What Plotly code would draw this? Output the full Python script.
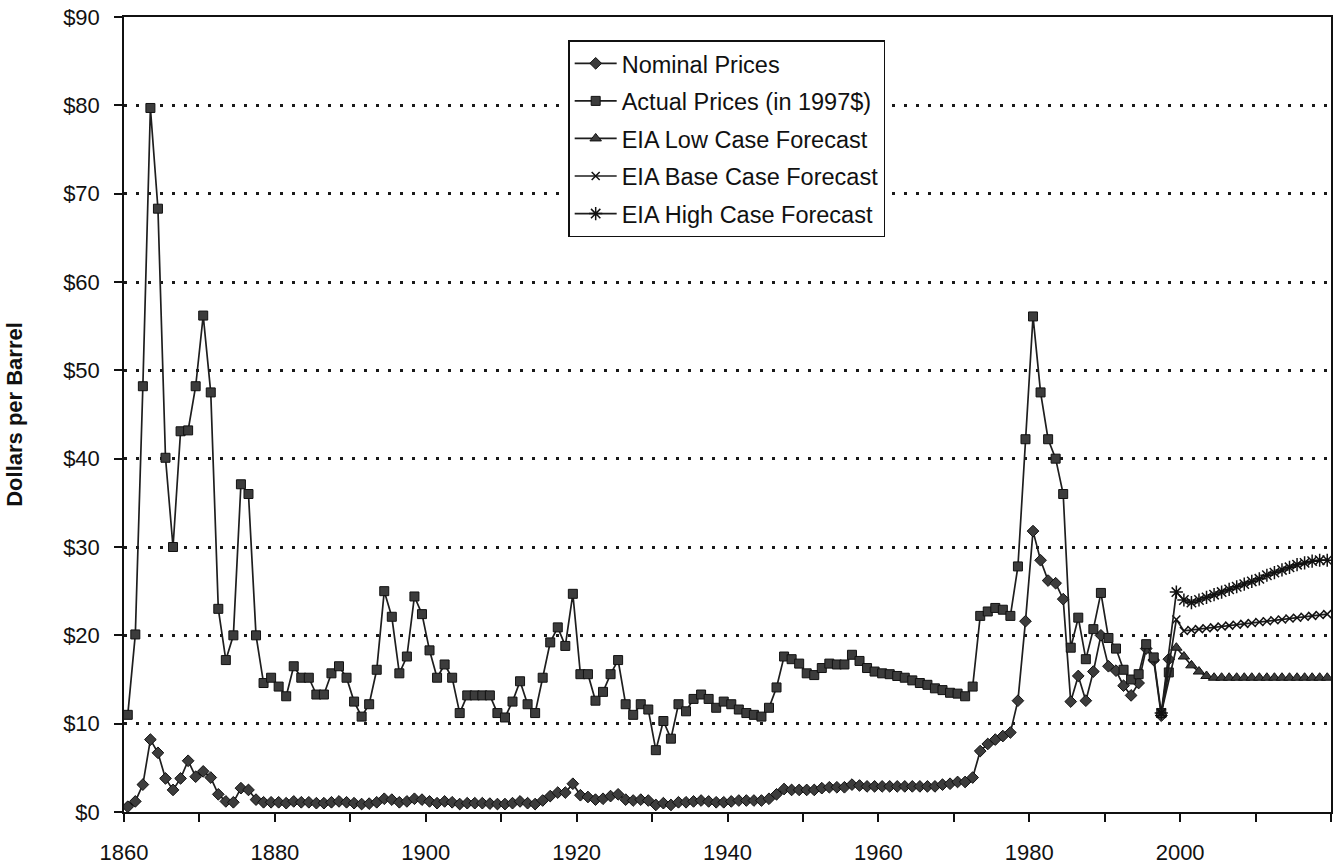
import plotly.graph_objects as go

# Historical crude oil prices, dollars per barrel
hist_years = list(range(1861, 2000))

nominal_prices = [
    0.6, 1.2, 3.1, 8.2, 6.7, 3.8, 2.5, 3.8, 5.8, 4.0,          # 1861-1870
    4.6, 3.9, 2.0, 1.2, 1.1, 2.7, 2.5, 1.4, 1.1, 1.1,          # 1871-1880
    1.1, 1.0, 1.2, 1.1, 1.1, 1.0, 1.0, 1.1, 1.2, 1.1,          # 1881-1890
    1.0, 0.9, 0.95, 1.1, 1.5, 1.4, 1.1, 1.2, 1.5, 1.4,         # 1891-1900
    1.2, 1.0, 1.2, 1.1, 0.9, 1.0, 1.0, 1.0, 0.95, 0.9,         # 1901-1910
    0.9, 1.0, 1.2, 1.0, 0.9, 1.3, 1.8, 2.2, 2.2, 3.2,          # 1911-1920
    1.9, 1.7, 1.4, 1.5, 1.8, 2.0, 1.4, 1.3, 1.4, 1.3,          # 1921-1930
    0.8, 1.0, 0.8, 1.1, 1.1, 1.2, 1.3, 1.2, 1.1, 1.1,          # 1931-1940
    1.2, 1.3, 1.3, 1.3, 1.3, 1.5, 2.0, 2.6, 2.5, 2.5,          # 1941-1950
    2.5, 2.5, 2.7, 2.8, 2.8, 2.8, 3.1, 3.0, 2.9, 2.9,          # 1951-1960
    2.9, 2.9, 2.9, 2.9, 2.9, 2.9, 2.9, 2.9, 3.1, 3.2,          # 1961-1970
    3.4, 3.4, 3.9, 6.9, 7.7, 8.2, 8.6, 9.0, 12.6, 21.6,        # 1971-1980
    31.8, 28.5, 26.2, 25.9, 24.1, 12.5, 15.4, 12.6, 15.9, 20.0,  # 1981-1990
    16.5, 16.0, 14.3, 13.2, 14.6, 18.5, 17.2, 10.9, 17.3,      # 1991-1999
]

actual_prices_1997 = [
    11.0, 20.1, 48.2, 79.7, 68.3, 40.1, 30.0, 43.1, 43.2, 48.2,  # 1861-1870
    56.2, 47.5, 23.0, 17.2, 20.0, 37.1, 36.0, 20.0, 14.6, 15.2,  # 1871-1880
    14.2, 13.1, 16.5, 15.2, 15.2, 13.3, 13.3, 15.7, 16.5, 15.2,  # 1881-1890
    12.5, 10.8, 12.2, 16.1, 25.0, 22.1, 15.7, 17.6, 24.4, 22.4,  # 1891-1900
    18.3, 15.2, 16.7, 15.2, 11.2, 13.2, 13.2, 13.2, 13.2, 11.2,  # 1901-1910
    10.7, 12.5, 14.8, 12.2, 11.2, 15.2, 19.2, 20.9, 18.8, 24.7,  # 1911-1920
    15.6, 15.6, 12.6, 13.6, 15.6, 17.2, 12.2, 11.0, 12.2, 11.6,  # 1921-1930
    7.0, 10.3, 8.3, 12.2, 11.4, 12.8, 13.3, 12.8, 11.8, 12.5,    # 1931-1940
    12.2, 11.6, 11.2, 11.0, 10.8, 11.8, 14.1, 17.6, 17.3, 16.8,  # 1941-1950
    15.7, 15.5, 16.3, 16.8, 16.7, 16.7, 17.8, 17.1, 16.3, 15.9,  # 1951-1960
    15.7, 15.6, 15.4, 15.2, 14.9, 14.6, 14.4, 14.0, 13.8, 13.5,  # 1961-1970
    13.4, 13.1, 14.2, 22.2, 22.7, 23.1, 22.9, 22.2, 27.8, 42.2,  # 1971-1980
    56.1, 47.5, 42.2, 40.0, 36.0, 18.6, 22.0, 17.3, 20.7, 24.8,  # 1981-1990
    19.7, 18.5, 16.1, 15.0, 15.6, 19.0, 17.5, 11.2, 15.8,        # 1991-1999
]

# EIA forecasts, anchored on the last full year of actual prices (1998)
forecast_years = [1998] + list(range(2000, 2021))

low_case = [11.2, 18.6, 17.6, 16.6, 15.9, 15.4,
            15.2, 15.2, 15.2, 15.2, 15.2, 15.2, 15.2, 15.2,
            15.2, 15.2, 15.2, 15.2, 15.2, 15.2, 15.2, 15.2]

base_case = [11.2, 21.8, 20.5, 20.6, 20.7, 20.8,
             20.9, 21.0, 21.1, 21.2, 21.3, 21.4, 21.5, 21.6,
             21.7, 21.8, 21.9, 22.0, 22.1, 22.2, 22.3, 22.4]

high_case = [11.2, 24.9, 24.0, 23.7, 24.0, 24.3,
             24.6, 24.9, 25.2, 25.5, 25.8, 26.1, 26.4, 26.8,
             27.1, 27.4, 27.7, 28.0, 28.2, 28.4, 28.5, 28.5]

# Axis labels: decade ticks sit on the boundaries between yearly categories
decade_labels = ["1860", "", "1880", "", "1900", "", "1920", "", "1940", "",
                 "1960", "", "1980", "", "2000", "", ""]
price_ticks = list(range(0, 100, 10))
price_labels = [f"${v}" for v in price_ticks]

LINE = "#1e1e1e"
FILL = "#3c3c3c"
EDGE = "#111111"
FONT = "Liberation Sans, Arial, Helvetica, sans-serif"

series = [
    ("Nominal Prices", hist_years, nominal_prices, dict(symbol="diamond", size=9)),
    ("Actual Prices (in 1997$)", hist_years, actual_prices_1997, dict(symbol="square", size=9)),
    ("EIA Low Case Forecast", forecast_years, low_case, dict(symbol="triangle-up", size=10)),
    ("EIA Base Case Forecast", forecast_years, base_case,
     dict(symbol="x-thin-open", size=8)),
    ("EIA High Case Forecast", forecast_years, high_case,
     dict(symbol="asterisk-open", size=11)),
]

fig = go.Figure()
for i, (name, xs, ys, mk) in enumerate(series):
    marker = dict(symbol=mk["symbol"], size=mk["size"], color=FILL,
                  line=dict(color=EDGE, width=1))
    if mk["symbol"].endswith("-open"):
        marker = dict(symbol=mk["symbol"], size=mk["size"], color=EDGE,
                      line=dict(color=EDGE, width=1.5))
    fig.add_trace(go.Scatter(
        x=xs, y=ys, name=name, mode="lines+markers",
        line=dict(color=LINE, width=1.7),
        marker=marker,
        legendgroup=f"g{i}",
    ))

first_boundary = hist_years[0] - 0.5
tick_positions = [first_boundary + 10 * k for k in range(len(decade_labels))]

fig.update_layout(
    width=1336, height=864,
    margin=dict(l=124, r=5, t=17, b=52),
    paper_bgcolor="white", plot_bgcolor="white",
    font=dict(family=FONT, size=22, color="#111111"),
    showlegend=True,
    legend=dict(
        x=0.368, y=0.971, xanchor="left", yanchor="top",
        bgcolor="white", bordercolor="#111111", borderwidth=1.5,
        font=dict(family=FONT, size=23.5, color="#111111"),
        itemwidth=42, tracegroupgap=4,
    ),
    xaxis=dict(
        range=[first_boundary, tick_positions[-1]],
        tickmode="array", tickvals=tick_positions, ticktext=decade_labels,
        ticks="outside", ticklen=8, tickwidth=1.5, tickcolor="#111111",
        showline=True, linecolor="#111111", linewidth=1.5, mirror=True,
        showgrid=False, zeroline=False, automargin=False,
        ticklabelstandoff=12,
        tickfont=dict(family=FONT, size=22, color="#111111"),
    ),
    yaxis=dict(
        range=[0, 90],
        tickmode="array", tickvals=price_ticks, ticktext=price_labels,
        ticks="outside", ticklen=8, tickwidth=1.5, tickcolor="#111111",
        showline=True, linecolor="#111111", linewidth=1.5, mirror=True,
        showgrid=True, gridcolor="#1a1a1a", gridwidth=2.5, griddash="2.5px,9.5px",
        zeroline=False, automargin=False,
        ticklabelstandoff=10,
        tickfont=dict(family=FONT, size=22, color="#111111"),
        title=dict(text="<b>Dollars per Barrel</b>", standoff=34,
                   font=dict(family=FONT, size=22, color="#111111")),
    ),
)

fig.write_html("out.html")
